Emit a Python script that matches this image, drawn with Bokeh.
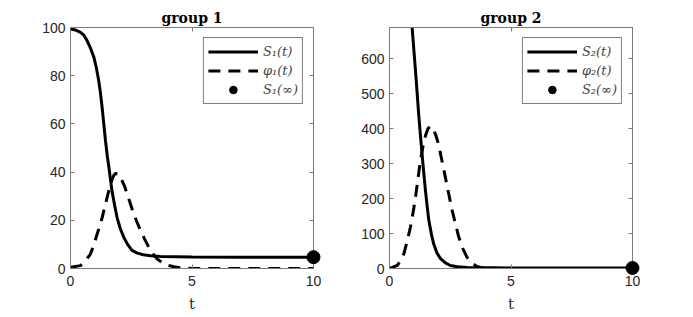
from bokeh.plotting import figure
from bokeh.layouts import row
from bokeh.models import LinearAxis, FixedTicker, Legend, LegendItem, Range1d
from bokeh.embed import file_html
from bokeh.resources import INLINE

# ---- data ----
t_S1 = [0, 0.2, 0.41, 0.55, 0.68, 0.82, 0.96, 1.06, 1.16, 1.23, 1.3, 1.37, 1.44, 1.51, 1.58,
        1.65, 1.71, 1.82, 1.92, 2.05, 2.19, 2.35, 2.53, 2.75, 3.0, 3.3, 3.7, 5, 7, 10]
S1 = [99.4, 99.0, 98.0, 96.8, 94.6, 91.5, 87.7, 83.5, 78, 73, 67, 60, 53, 47, 42,
      36.5, 32, 26, 21, 16.5, 13, 10, 7.5, 6.4, 5.7, 5.3, 5.0, 4.8, 4.7, 4.7]
t_phi1 = [0, 0.41, 0.6, 0.82, 0.95, 1.1, 1.2, 1.3, 1.41, 1.51, 1.61, 1.71, 1.78, 1.85, 1.95,
          2.03, 2.12, 2.23, 2.33, 2.46, 2.6, 2.74, 2.88, 3.05, 3.22, 3.4, 3.56, 3.77, 3.97,
          4.25, 4.52, 5, 7, 10]
phi1 = [0.5, 1.2, 3, 6, 9.5, 14.4, 17.5, 21, 25.5, 29.6, 33.5, 37, 38.6, 39.4, 39.3,
        38.3, 36.5, 34, 31, 27, 22.7, 19.2, 15.8, 12.2, 8.9, 6.1, 4, 2.5, 1.5,
        0.7, 0.3, 0, 0, 0]
S1_inf = 4.7

t_S2 = [0, 0.4, 0.7, 0.93, 1.0, 1.07, 1.14, 1.2, 1.27, 1.34, 1.41, 1.48, 1.55, 1.62, 1.72,
        1.82, 1.95, 2.1, 2.3, 2.5, 2.8, 3.19, 5, 7, 10]
S2 = [1500, 1250, 900, 691, 628, 566, 500, 442, 384, 328, 274, 223, 178, 137, 100,
      70, 45, 28, 16, 8.6, 5, 3, 1.5, 1.5, 1.5]
t_phi2 = [0, 0.32, 0.46, 0.59, 0.72, 0.86, 0.97, 1.07, 1.17, 1.27, 1.38, 1.48, 1.58, 1.68,
          1.78, 1.89, 2.0, 2.1, 2.2, 2.3, 2.44, 2.58, 2.72, 2.85, 3.02, 3.19, 3.4, 3.6, 3.8,
          4.0, 5, 7, 10]
phi2 = [0, 9, 22, 42, 76, 118, 160, 204, 256, 309, 350, 380, 400, 408,
        402, 385, 360, 328, 295, 261, 213, 166, 126, 90, 57, 32, 15, 6, 2,
        0.5, 0, 0, 0]
S2_inf = 1.5

x_ticks = [0, 5, 10]
y_ticks_1 = [0, 20, 40, 60, 80, 100]
y_ticks_2 = [0, 100, 200, 300, 400, 500, 600]

AX = "#262626"
BOX = "#7a7a7a"


def make(title, ymax, yticks, t_s, s, t_p, p_, s_inf, labels, left_border, right_border):
    p = figure(x_range=Range1d(0, 10), y_range=Range1d(0, ymax),
               output_backend="svg", toolbar_location=None,
               min_border_left=left_border, min_border_right=right_border,
               min_border_top=27, min_border_bottom=10)
    p.frame_width = 243
    p.frame_height = 241
    p.title.text = title
    p.title.align = "center"
    p.title.text_font = "DejaVu Serif"
    p.title.text_font_style = "bold"
    p.title.text_font_size = "14px"
    p.title.text_color = "black"
    p.title.standoff = 3
    p.xgrid.visible = False
    p.ygrid.visible = False
    p.outline_line_color = BOX
    p.outline_line_width = 1

    top = LinearAxis()
    right = LinearAxis()
    p.add_layout(top, "above")
    p.add_layout(right, "right")

    for ax in p.xaxis:
        ax.ticker = FixedTicker(ticks=x_ticks)
    for ax in p.yaxis:
        ax.ticker = FixedTicker(ticks=yticks)
    for ax in p.xaxis + p.yaxis:
        ax.axis_line_color = BOX
        ax.major_tick_line_color = BOX
        ax.major_tick_in = 4
        ax.major_tick_out = 0
        ax.minor_tick_line_color = None
        ax.major_label_text_font = "Liberation Sans"
        ax.major_label_text_font_size = "14px"
        ax.major_label_text_color = AX
        ax.major_label_standoff = 5
    top.major_label_overrides = {v: "" for v in x_ticks}
    right.major_label_overrides = {v: "" for v in yticks}
    top.major_label_standoff = 0
    right.major_label_standoff = 0
    p.below[0].major_label_standoff = 7

    xb = p.below[0]
    xb.axis_label = "t"
    xb.axis_label_text_font = "DejaVu Serif"
    xb.axis_label_text_font_style = "normal"
    xb.axis_label_text_font_size = "15px"
    xb.axis_label_text_color = AX
    xb.axis_label_standoff = 6

    r1 = p.line(t_s, s, line_color="black", line_width=3)
    r2 = p.line(t_p, p_, line_color="black", line_width=3, line_dash="12 8")
    r3 = p.scatter([10], [s_inf], size=13, color="black", level="overlay")

    leg = Legend(items=[LegendItem(label=labels[0], renderers=[r1]),
                        LegendItem(label=labels[1], renderers=[r2]),
                        LegendItem(label=labels[2], renderers=[r3])],
                 location="top_right")
    leg.margin = 10
    leg.padding = 4
    leg.spacing = 0
    leg.glyph_width = 50
    leg.glyph_height = 19
    leg.label_standoff = 5
    leg.label_height = 19
    leg.label_text_font = "DejaVu Serif"
    leg.label_text_font_style = "italic"
    leg.label_text_font_size = "13px"
    leg.border_line_color = "black"
    leg.border_line_width = 1
    leg.background_fill_alpha = 1
    p.add_layout(leg, "center")
    return p


p1 = make("group 1", 100, y_ticks_1, t_S1, S1, t_phi1, phi1, S1_inf,
          ["S₁(t)", "φ₁(t)", "S₁(∞)"], 70, 25)
p2 = make("group 2", 690, y_ticks_2, t_S2, S2, t_phi2, phi2, S2_inf,
          ["S₂(t)", "φ₂(t)", "S₂(∞)"], 51, 40)

layout = row(p1, p2)
open("out.html", "w").write(file_html(layout, INLINE))
